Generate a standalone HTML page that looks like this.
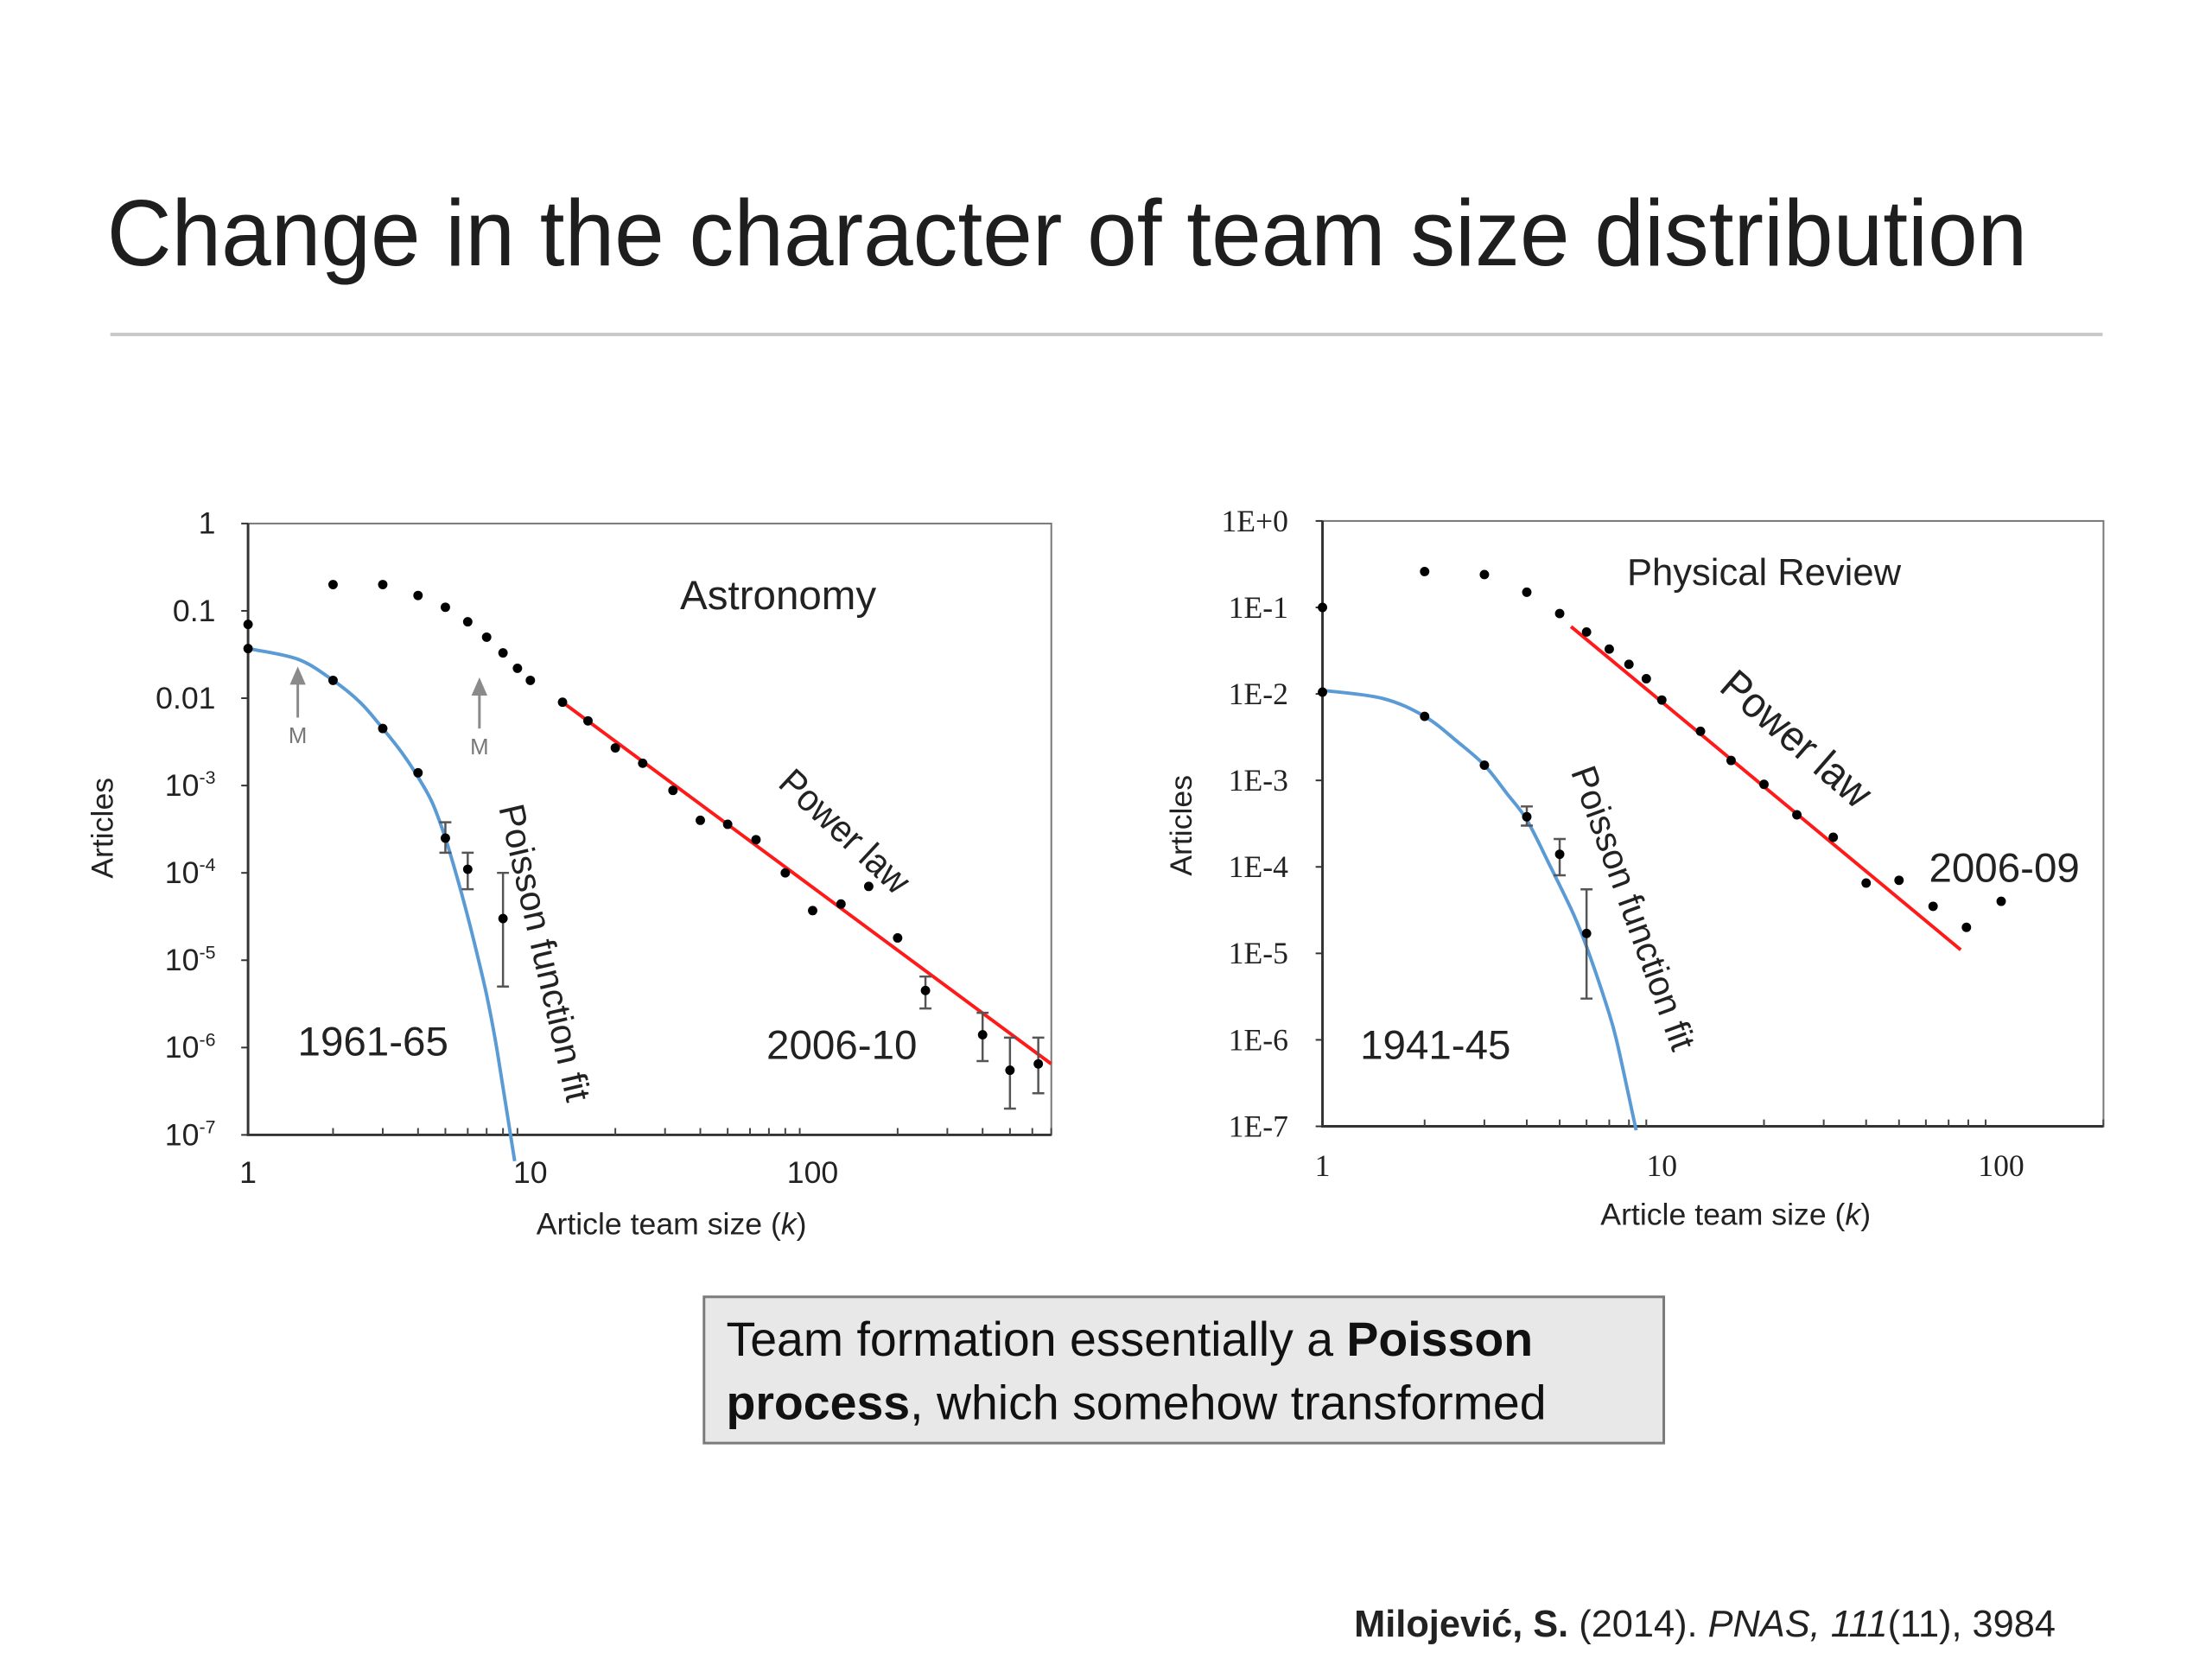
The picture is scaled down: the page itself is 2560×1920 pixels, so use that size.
<!DOCTYPE html>
<html><head><meta charset="utf-8"><style>
html,body{margin:0;padding:0;background:#fff;}
svg{display:block;}
text{font-family:"Liberation Sans",sans-serif;}
.cal{font-family:"Liberation Sans",sans-serif;fill:#222;}
.ser{font-family:"Liberation Serif",serif;fill:#222;}
</style></head><body>
<svg id="root" width="2560" height="1920" viewBox="0 0 2560 1920" xmlns="http://www.w3.org/2000/svg">
<g transform="scale(0.99)">
<text x="125" y="310" font-size="110" fill="#1e1e1e" textLength="2245" lengthAdjust="spacingAndGlyphs">Change in the character of team size distribution</text>
<rect x="129" y="389" width="2329" height="4" fill="#c8c8c8"/>
<g id="left"></g>
<g id="right"></g>
<rect x="823" y="1516" width="1122" height="171" fill="#e8e8e8" stroke="#7a7a7a" stroke-width="3"/>
<text x="849" y="1585" font-size="56" fill="#111">Team formation essentially a <tspan font-weight="bold">Poisson</tspan></text>
<text x="849" y="1659" font-size="56" fill="#111"><tspan font-weight="bold">process</tspan>, which somehow transformed</text>
<text x="1583" y="1913" font-size="44" fill="#222" textLength="820" lengthAdjust="spacingAndGlyphs"><tspan font-weight="bold">Milojević, S.</tspan> (2014). <tspan font-style="italic">PNAS, 111</tspan>(11), 3984</text>
</g>
</svg>
<script>
// ---------- Astronomy data ----------
const astroK2006 = [1,2,3,4,5,6,7,8,9,10,13,16,20,25,32,40,50,63,80,100,126,158,200,251,400,500,630];
const astroV2006 = [0.07,0.2,0.2,0.15,0.11,0.075,0.05,0.033,0.022,0.016,0.009,0.0055,0.0027,0.0018,0.00088,0.0004,0.00036,0.00024,0.0001,0.000037,0.000044,0.00007,0.000018,0.0000045,0.0000014,0.00000055,0.00000065];
const astroErrK = [251,400,500,630];
const astroErrLo = [0.0000028,0.0000007,0.0000002,0.0000003];
const astroErrHi = [0.0000065,0.0000025,0.0000013,0.0000013];
const astroK1961 = [1,2,3,4,5,6,8];
const astroV1961 = [0.037,0.016,0.0045,0.0014,0.00025,0.00011,0.00003];
const astroErr61K = [5,6,8];
const astroErr61Lo = [0.00017,0.000065,0.000005];
const astroErr61Hi = [0.00038,0.00017,0.0001];
const astroFitK = [1,1.5,2,2.5,3,3.5,4,4.5,5,5.5,6,6.5,7,7.5,8,8.6,8.8];
const astroFitV = [0.037,0.028,0.016,0.0089,0.0045,0.0024,0.00125,0.00063,0.00025,0.000089,0.0000316,0.0000112,0.000004,0.00000126,0.00000035,0.00000008,0.00000005];
const astroPowK = [13,700];
const astroPowV = [0.009,0.00000065];
const astroArrowK = [1.5,6.6];
const astroArrowV = [0.006,0.0045];
const astroYTicks = ["1","0.1","0.01","10|-3","10|-4","10|-5","10|-6","10|-7"];
const astroXTicks = ["1","10","100"];
// ---------- Physical Review data ----------
const prK2006 = [1,2,3,4,5,6,7,8,9,10,13,16,20,25,32,40,50,63,79,100];
const prV2006 = [0.1,0.26,0.24,0.15,0.085,0.052,0.033,0.022,0.015,0.0085,0.0037,0.0017,0.0009,0.0004,0.00022,0.000065,0.00007,0.000035,0.00002,0.00004];
const prK1941 = [1,2,3,4,5,6];
const prV1941 = [0.0105,0.0055,0.0015,0.00038,0.00014,0.000017];
const prErrK = [4,5,6];
const prErrLo = [0.0003,0.00008,0.000003];
const prErrHi = [0.0005,0.00021,0.000055];
const prFitK = [1,1.5,2,2.5,3,3.5,4,4.7,5.5,6.1,7,7.4,8,8.4];
const prFitV = [0.011,0.0089,0.0055,0.0028,0.0015,0.0007,0.00035,0.0001,0.000028,0.00001,0.000002,0.00000089,0.00000022,0.00000009];
const prPowK = [5.4,76];
const prPowV = [0.06,0.000011];
const prYTicks = ["1E+0","1E-1","1E-2","1E-3","1E-4","1E-5","1E-6","1E-7"];
const prXTicks = ["1","10","100"];

const NS="http://www.w3.org/2000/svg";
function mk(parent,tag,attrs,txt){const e=document.createElementNS(NS,tag);for(const k in attrs)e.setAttribute(k,attrs[k]);if(txt!==undefined)e.textContent=txt;parent.appendChild(e);return e;}

function drawChart(g,cfg){
  const X=k=>cfg.x0+Math.log10(k)*cfg.xd;
  const Y=v=>cfg.y0-Math.log10(v)*cfg.yd;
  const bottom=cfg.y0+7*cfg.yd;
  const r=mk(g,'rect',{x:cfg.x0,y:cfg.y0,width:cfg.x1-cfg.x0,height:bottom-cfg.y0,fill:'none',stroke:'#777','stroke-width':2});
  
  
  const ax=mk(g,'path',{d:`M${cfg.x0} ${cfg.y0}V${bottom}H${cfg.x1}`,stroke:'#333','stroke-width':3,fill:'none'});
  
  
  cfg.yTicks.forEach((t,i)=>{
    const y=cfg.y0+i*cfg.yd;
    const tk=mk(g,'line',{x1:cfg.x0-8,x2:cfg.x0,y1:y,y2:y,stroke:'#333','stroke-width':2});
    
    
    const tx=mk(g,'text',{x:cfg.ylx,y:y+12,'text-anchor':'end','font-size':cfg.tfs,class:cfg.tcls});
    
    
    if(t.indexOf('|')>=0){const p=t.split('|');mk(tx,'tspan',{},p[0]);mk(tx,'tspan',{'font-size':cfg.tfs*0.6,dy:-14},p[1]);}
    else tx.textContent=t;
  });
  cfg.xTicks.forEach((t,i)=>{
    const x=cfg.x0+i*cfg.xd;
    const tx=mk(g,'text',{x:x,y:bottom+cfg.xly,'text-anchor':'middle','font-size':cfg.tfs,class:cfg.tcls},t);
    
    
  });
  for(let d=0;d<3;d++)for(let m=2;m<=9;m++){const k=m*Math.pow(10,d);const x=X(k);if(x>=cfg.x1)continue;
    const tk=mk(g,'line',{x1:x,x2:x,y1:bottom,y2:bottom-8,stroke:'#444','stroke-width':2});
    
    }
  const xt=mk(g,'text',{x:cfg.xtx,y:cfg.xty,'text-anchor':'middle','font-size':36,class:'cal'});
  
  
  mk(xt,'tspan',{},'Article team size (');mk(xt,'tspan',{'font-style':'italic'},'k');mk(xt,'tspan',{},')');
  const yt=mk(g,'text',{x:0,y:0,'text-anchor':'middle','font-size':36,class:'cal',transform:`translate(${cfg.ytx},${cfg.yty}) rotate(-90)`},'Articles');
  
  
  const pts=cfg.fitK.map((k,i)=>[X(k),Y(cfg.fitV[i])]);
  let d='M'+pts[0][0]+' '+pts[0][1];
  for(let i=0;i<pts.length-1;i++){const p0=pts[Math.max(0,i-1)],p1=pts[i],p2=pts[i+1],p3=pts[Math.min(pts.length-1,i+2)];
    d+=` C${p1[0]+(p2[0]-p0[0])/6} ${p1[1]+(p2[1]-p0[1])/6} ${p2[0]-(p3[0]-p1[0])/6} ${p2[1]-(p3[1]-p1[1])/6} ${p2[0]} ${p2[1]}`;}
  const fc=mk(g,'path',{d:d,stroke:'#5b9bd5','stroke-width':4,fill:'none'});
  
  
  const pl=mk(g,'line',{x1:X(cfg.powK[0]),y1:Y(cfg.powV[0]),x2:X(cfg.powK[1]),y2:Y(cfg.powV[1]),stroke:'#ff1a1a','stroke-width':4});
  
  
  const eb=(ks,lo,hi)=>ks.forEach((k,i)=>{const x=X(k);
    const e=mk(g,'path',{d:`M${x} ${Y(lo[i])}V${Y(hi[i])}M${x-7} ${Y(lo[i])}h14M${x-7} ${Y(hi[i])}h14`,stroke:'#555','stroke-width':2.5,fill:'none'});
    
    });
  eb(cfg.errK,cfg.errLo,cfg.errHi);eb(cfg.err2K,cfg.err2Lo,cfg.err2Hi);
  const dots=(ks,vs,nm)=>ks.forEach((k,i)=>{
    const c=mk(g,'circle',{cx:X(k),cy:Y(vs[i]),r:5.5,fill:'#000'});
    
    });
  dots(cfg.aK,cfg.aV,'point-recent');dots(cfg.bK,cfg.bV,'point-early');
  if(cfg.arrowK)cfg.arrowK.forEach((k,i)=>{const x=X(k),y=Y(cfg.arrowV[i]);
    const a=mk(g,'path',{d:`M${x} ${y}V${y-52}M${x-7} ${y-40}L${x} ${y-56}L${x+7} ${y-40}Z`,stroke:'#8a8a8a','stroke-width':3,fill:'#8a8a8a'});
    
    
    const m=mk(g,'text',{x:x,y:y+30,'text-anchor':'middle','font-size':26,fill:'#777'},'M');
    
    });
  cfg.labels.forEach(L=>{
    const t=mk(g,'text',{x:0,y:0,'font-size':L.fs,class:'cal',transform:`translate(${L.x},${L.y}) rotate(${L.rot||0})`},L.t);
    if(L.len){t.setAttribute('textLength',L.len);t.setAttribute('lengthAdjust','spacingAndGlyphs');}
    
    
  });
}
drawChart(document.getElementById('left'),{x0:290,xd:330,x1:1229,y0:612,yd:102.1,
  yTicks:astroYTicks,xTicks:astroXTicks,ylx:252,xly:56,tfs:36,tcls:'cal',xtx:785,xty:1443,ytx:132,yty:968,
  fitK:astroFitK,fitV:astroFitV,powK:astroPowK,powV:astroPowV,
  errK:astroErrK,errLo:astroErrLo,errHi:astroErrHi,err2K:astroErr61K,err2Lo:astroErr61Lo,err2Hi:astroErr61Hi,
  aK:astroK2006,aV:astroV2006,bK:astroK1961,bV:astroV1961,arrowK:astroArrowK,arrowV:astroArrowV,
  labels:[{t:'Astronomy',x:795,y:712,fs:48,n:'astronomy-label'},{t:'1961-65',x:348,y:1234,fs:48,n:'period-label-1961'},
    {t:'2006-10',x:896,y:1238,fs:48,n:'period-label-2006'},
    {t:'Poisson function fit',x:583,y:944,fs:42,rot:77,len:355,n:'poisson-fit-label'},
    {t:'Power law',x:908,y:918,fs:44,rot:43,len:190,n:'power-law-label'}]});
drawChart(document.getElementById('right'),{x0:1546,xd:396.7,x1:2459,y0:609,yd:101.1,
  yTicks:prYTicks,xTicks:prXTicks,ylx:1506,xly:58,tfs:36,tcls:'ser',xtx:2029,xty:1432,ytx:1393,yty:965,
  fitK:prFitK,fitV:prFitV,powK:prPowK,powV:prPowV,
  errK:prErrK,errLo:prErrLo,errHi:prErrHi,err2K:[],err2Lo:[],err2Hi:[],
  aK:prK2006,aV:prV2006,bK:prK1941,bV:prV1941,arrowK:null,
  labels:[{t:'Physical Review',x:1902,y:684,fs:44,n:'physical-review-label'},{t:'1941-45',x:1590,y:1238,fs:48,n:'period-label-1941'},
    {t:'2006-09',x:2255,y:1031,fs:48,n:'period-label-2006'},
    {t:'Poisson function fit',x:1836,y:902,fs:42,rot:70,len:350,n:'poisson-fit-label'},
    {t:'Power law',x:2008,y:806,fs:50,rot:41,len:215,n:'power-law-label'}]});
</script>
</body></html>
